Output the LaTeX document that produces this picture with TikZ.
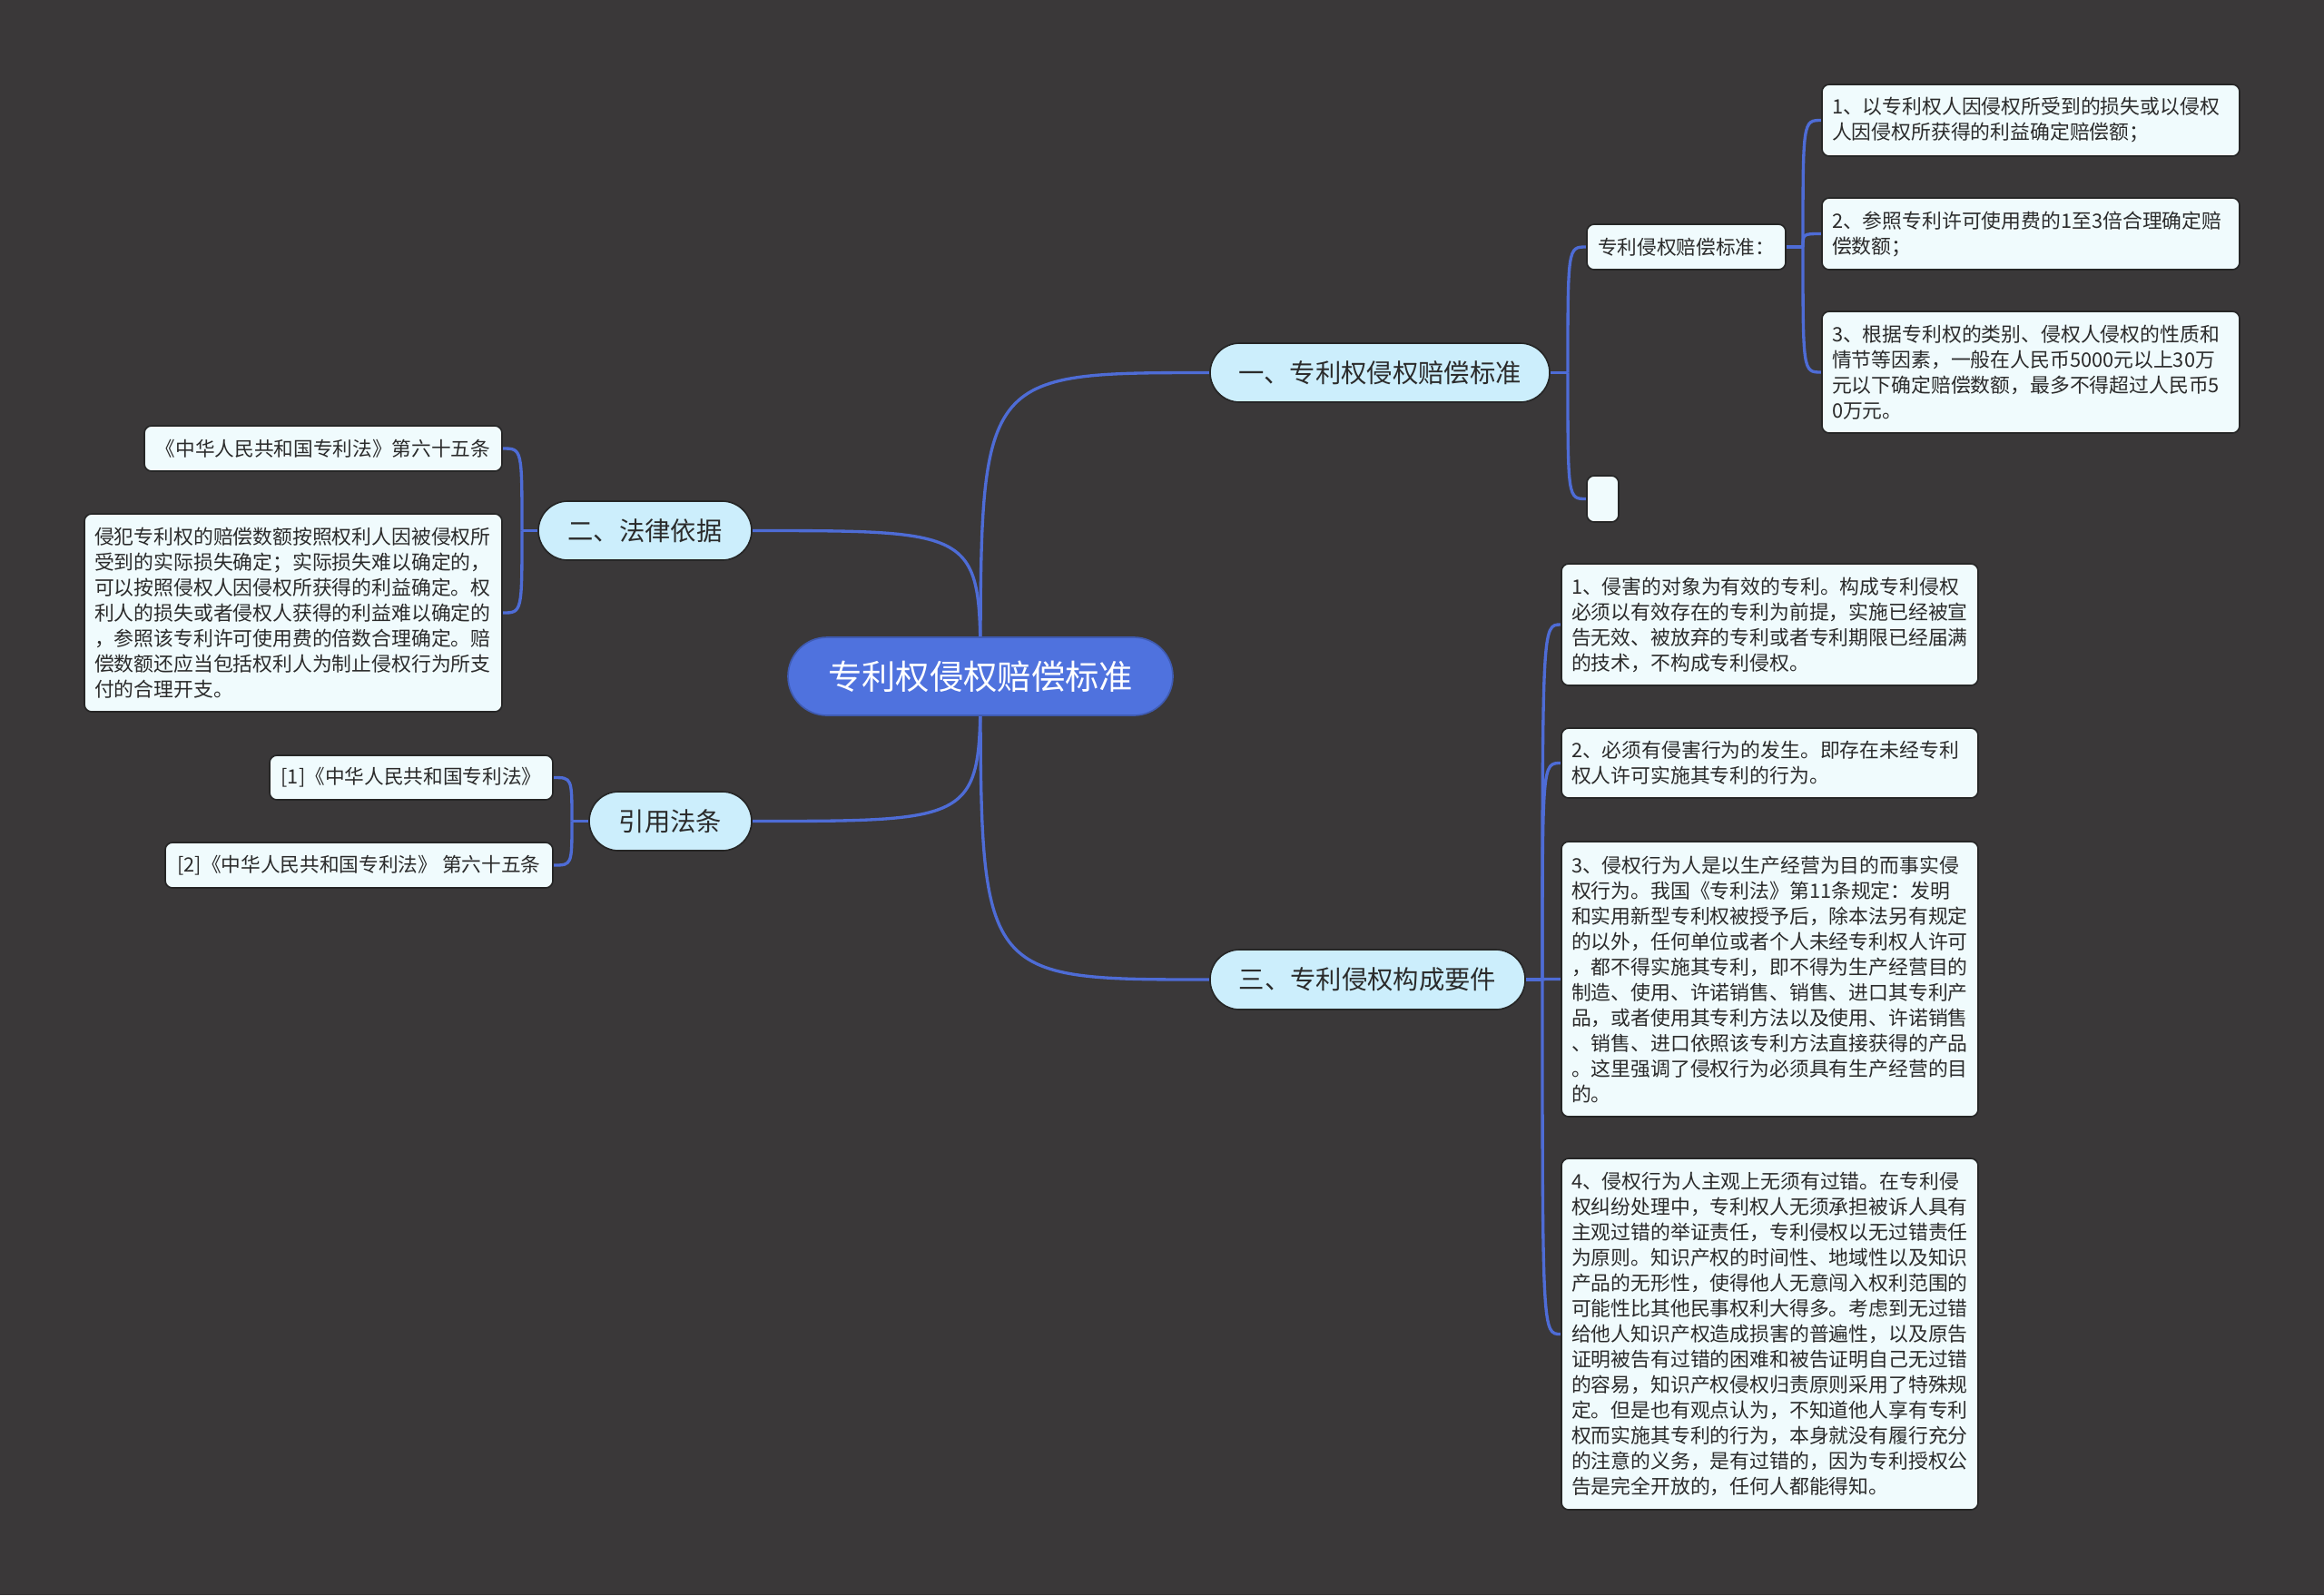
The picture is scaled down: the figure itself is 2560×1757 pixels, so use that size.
\documentclass[tikz,border=0pt]{standalone}
\usepackage{fontspec}
\setmainfont{Noto Sans CJK SC}
\definecolor{bgc}{HTML}{3A3839}
\definecolor{linec}{HTML}{4E6CD6}
\definecolor{rootc}{HTML}{4F72DE}
\definecolor{lonec}{HTML}{CCEEFC}
\definecolor{leafc}{HTML}{F0FBFD}
\definecolor{textc}{HTML}{2B2B2B}
\definecolor{edgec}{HTML}{262626}
\pgfdeclarelayer{bglayer}
\pgfsetlayers{bglayer,main}
\tikzset{
  x=0.3pt, y=-0.3pt,
  conn/.style={draw=linec, line width=1pt},
  rootnode/.style={fill=rootc, draw=rootc!80!black, line width=0.5pt, rounded corners=12.9pt, text=white, font=\fontsize{11.2}{13}\selectfont, inner sep=0pt},
  lone/.style={fill=lonec, draw=edgec, line width=0.5pt, rounded corners=9.75pt, text=textc, font=\fontsize{8.5}{10}\selectfont, inner sep=0pt},
  leaf/.style={fill=leafc, draw=edgec, line width=0.5pt, rounded corners=2.4pt, text=textc, font=\fontsize{6.55}{8.4}\selectfont, align=left, inner xsep=3.3pt, inner ysep=0pt},
  sleaf/.style={fill=leafc, draw=edgec, line width=0.5pt, rounded corners=2.4pt, text=textc, font=\fontsize{6.5}{8.4}\selectfont, align=center, inner sep=0pt},
}
\begin{document}
\begin{tikzpicture}
\useasboundingbox (0,0) rectangle (2560,1757);
% root
\node[rootnode, minimum width=127.2pt, minimum height=25.8pt] (root) at (1080,745) {专利权侵权赔偿标准};
% level one
\node[lone, minimum width=112.2pt, minimum height=19.5pt] (one) at (1520,410.5) {一、专利权侵权赔偿标准};
\node[lone, minimum width=70.5pt, minimum height=19.5pt] (two) at (710.5,584.5) {二、法律依据};
\node[lone, minimum width=53.7pt, minimum height=19.5pt] (cite) at (738.5,904.5) {引用法条};
\node[lone, minimum width=104.1pt, minimum height=19.8pt] (three) at (1506.5,1079) {三、专利侵权构成要件};
% branch one
\node[sleaf, minimum width=65.7pt, minimum height=15pt] (std) at (1857.5,272) {专利侵权赔偿标准：};
\node[sleaf, minimum width=10.5pt, minimum height=15.3pt] (empty) at (1765.5,549.5) {};
\node[leaf, text width=131.4pt, minimum height=23.7pt] (la) at (2237,132.5) {1、以专利权人因侵权所受到的损失或以侵权\\人因侵权所获得的利益确定赔偿额；};
\node[leaf, text width=131.4pt, minimum height=23.7pt] (lb) at (2237,257.5) {2、参照专利许可使用费的1至3倍合理确定赔\\偿数额；};
\node[leaf, text width=131.4pt, minimum height=40.2pt] (lc) at (2237,410) {3、根据专利权的类别、侵权人侵权的性质和\\情节等因素，一般在人民币5000元以上30万\\元以下确定赔偿数额，最多不得超过人民币5\\0万元。};
% branch two
\node[sleaf, minimum width=118.2pt, minimum height=15pt] (fa) at (356,494) {《中华人民共和国专利法》第六十五条};
\node[leaf, text width=131.4pt, minimum height=65.4pt] (fb) at (323,675) {侵犯专利权的赔偿数额按照权利人因被侵权所\\受到的实际损失确定；实际损失难以确定的，\\可以按照侵权人因侵权所获得的利益确定。权\\利人的损失或者侵权人获得的利益难以确定的\\，参照该专利许可使用费的倍数合理确定。赔\\偿数额还应当包括权利人为制止侵权行为所支\\付的合理开支。};
% cite branch
\node[sleaf, minimum width=93.6pt, minimum height=14.7pt] (ra) at (453,856.5) {[1]《中华人民共和国专利法》};
\node[sleaf, minimum width=128.1pt, minimum height=15pt] (rb) at (395.5,953) {[2]《中华人民共和国专利法》 第六十五条};
% branch three
\node[leaf, text width=131.1pt, minimum height=40.2pt] (ta) at (1949.5,688) {1、侵害的对象为有效的专利。构成专利侵权\\必须以有效存在的专利为前提，实施已经被宣\\告无效、被放弃的专利或者专利期限已经届满\\的技术，不构成专利侵权。};
\node[leaf, text width=131.1pt, minimum height=23.1pt] (tb) at (1949.5,840.5) {2、必须有侵害行为的发生。即存在未经专利\\权人许可实施其专利的行为。};
\node[leaf, text width=131.1pt, minimum height=90.9pt] (tc) at (1949.5,1078.5) {3、侵权行为人是以生产经营为目的而事实侵\\权行为。我国《专利法》第11条规定：发明\\和实用新型专利权被授予后，除本法另有规定\\的以外，任何单位或者个人未经专利权人许可\\，都不得实施其专利，即不得为生产经营目的\\制造、使用、许诺销售、销售、进口其专利产\\品，或者使用其专利方法以及使用、许诺销售\\、销售、进口依照该专利方法直接获得的产品\\。这里强调了侵权行为必须具有生产经营的目\\的。};
\node[leaf, text width=131.1pt, minimum height=116.1pt] (td) at (1949.5,1469.5) {4、侵权行为人主观上无须有过错。在专利侵\\权纠纷处理中，专利权人无须承担被诉人具有\\主观过错的举证责任，专利侵权以无过错责任\\为原则。知识产权的时间性、地域性以及知识\\产品的无形性，使得他人无意闯入权利范围的\\可能性比其他民事权利大得多。考虑到无过错\\给他人知识产权造成损害的普遍性，以及原告\\证明被告有过错的困难和被告证明自己无过错\\的容易，知识产权侵权归责原则采用了特殊规\\定。但是也有观点认为，不知道他人享有专利\\权而实施其专利的行为，本身就没有履行充分\\的注意的义务，是有过错的，因为专利授权公\\告是完全开放的，任何人都能得知。};
% spine points
\coordinate (s1) at (1727,410.5);
\coordinate (s2) at (1986,272);
\coordinate (s3) at (1699,1079);
\coordinate (s4) at (575,584.5);
\coordinate (s5) at (630,904.5);
\begin{pgfonlayer}{bglayer}
\fill[bgc] (0,0) rectangle (2560,1757);
\draw[conn] (root.center) .. controls (1080,410.5) .. (one.west);
\draw[conn] (root.center) .. controls (1080,584.5) .. (two.east);
\draw[conn] (root.center) .. controls (1080,904.5) .. (cite.east);
\draw[conn] (root.center) .. controls (1080,1079) .. (three.west);
\draw[conn] (one.east) -- (s1);
\draw[conn] (s1) .. controls (1727,272) .. (std.west);
\draw[conn] (s1) .. controls (1727,549.5) .. (empty.west);
\draw[conn] (std.east) -- (s2);
\draw[conn] (s2) .. controls (1986,132.5) .. (la.west);
\draw[conn] (s2) .. controls (1986,257.5) .. (lb.west);
\draw[conn] (s2) .. controls (1986,410) .. (lc.west);
\draw[conn] (two.west) -- (s4);
\draw[conn] (s4) .. controls (575,494) .. (fa.east);
\draw[conn] (s4) .. controls (575,675) .. (fb.east);
\draw[conn] (cite.west) -- (s5);
\draw[conn] (s5) .. controls (630,856.5) .. (ra.east);
\draw[conn] (s5) .. controls (630,953) .. (rb.east);
\draw[conn] (three.east) -- (s3);
\draw[conn] (s3) .. controls (1699,688) .. (ta.west);
\draw[conn] (s3) .. controls (1699,840.5) .. (tb.west);
\draw[conn] (s3) .. controls (1699,1078.5) .. (tc.west);
\draw[conn] (s3) .. controls (1699,1469.5) .. (td.west);
\end{pgfonlayer}
\end{tikzpicture}
\end{document}
